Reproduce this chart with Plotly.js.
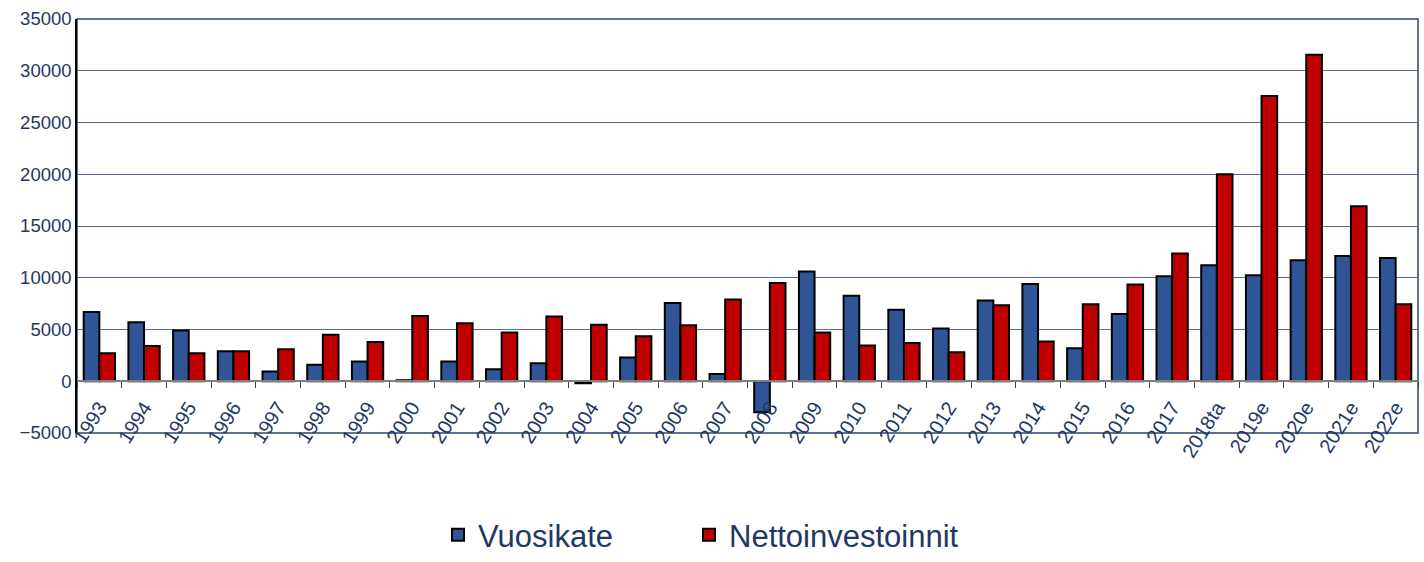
<!DOCTYPE html>
<html>
<head>
<meta charset="utf-8">
<script src="https://cdn.plot.ly/plotly-3.0.1.min.js"></script>
<style>
  html, body { margin: 0; padding: 0; background: #ffffff; }
  #chart { width: 1424px; height: 562px; }
</style>
</head>
<body>
<div id="chart"></div>
<script>
// Vuosikate vs. nettoinvestoinnit, 1993-2022e

const years = [
    '1993', '1994', '1995', '1996', '1997', '1998', '1999', '2000', '2001', '2002',
    '2003', '2004', '2005', '2006', '2007', '2008', '2009', '2010', '2011', '2012',
    '2013', '2014', '2015', '2016', '2017', '2018ta', '2019e', '2020e', '2021e', '2022e'
];

const vuosikate = [
    6700, 5700, 4900, 2900, 950, 1600, 1900, 100, 1900, 1150,
    1750, -200, 2300, 7550, 700, -3000, 10600, 8250, 6900, 5100,
    7800, 9400, 3200, 6500, 10150, 11200, 10250, 11700, 12100, 11900
];

const nettoinvestoinnit = [
    2700, 3400, 2700, 2900, 3100, 4500, 3800, 6300, 5600, 4700,
    6250, 5450, 4350, 5400, 7900, 9500, 4700, 3450, 3700, 2800,
    7350, 3850, 7450, 9350, 12350, 20000, 27550, 31550, 16900, 7450
];

const yMin = -5000;
const yMax = 35000;

const textColor = '#1f3864';
const gridColor = '#5a6b94';

const vuosikateTrace = {
    x: years,
    y: vuosikate,
    type: 'bar',
    name: 'Vuosikate',
    legend: 'legend',
    marker: { color: '#2f5597', line: { color: '#000000', width: 2 } }
};

const nettoTrace = {
    x: years,
    y: nettoinvestoinnit,
    type: 'bar',
    name: 'Nettoinvestoinnit',
    legend: 'legend2',
    marker: { color: '#c00000', line: { color: '#000000', width: 2 } }
};

// x axis sits at y = 0, not at the bottom of the plot
const zeroPos = (0 - yMin) / (yMax - yMin);

// one legend per series so the two entries sit where the reference has them
const legendBase = {
    orientation: 'h',
    xref: 'container',
    yref: 'container',
    xanchor: 'left',
    y: 0,
    yanchor: 'bottom',
    font: { size: 31, color: textColor },
    itemwidth: 30
};

const layout = {
    width: 1424,
    height: 562,
    paper_bgcolor: '#ffffff',
    plot_bgcolor: '#ffffff',
    font: { family: 'Liberation Sans, Arial, sans-serif', color: textColor },
    barmode: 'group',
    bargap: 0.3,
    bargroupgap: 0,
    margin: { t: 19, r: 6, b: 129, l: 77, autoexpand: false },
    showlegend: true,
    legend: Object.assign({}, legendBase, { x: 438 / 1424 }),
    legend2: Object.assign({}, legendBase, { x: 689 / 1424 }),
    xaxis: {
        type: 'category',
        anchor: 'free',
        position: zeroPos,
        automargin: false,
        showline: true,
        linecolor: '#7f7f7f',
        linewidth: 1.5,
        ticks: 'outside',
        tickson: 'boundaries',
        ticklen: 6,
        tickcolor: '#404040',
        tickangle: -58,
        ticklabelstandoff: 6,
        tickfont: { size: 20, color: textColor },
        showgrid: false,
        zeroline: false
    },
    yaxis: {
        range: [yMin, yMax],
        dtick: 5000,
        tickformat: 'd',
        automargin: false,
        showgrid: true,
        gridcolor: gridColor,
        gridwidth: 1,
        zeroline: false,
        showline: true,
        linecolor: '#000000',
        linewidth: 1.5,
        ticks: '',
        tickfont: { size: 18.5, color: textColor }
    },
    shapes: [
        {
            type: 'rect',
            xref: 'paper',
            yref: 'paper',
            x0: 0, x1: 1, y0: 0, y1: 1,
            line: { color: '#2e4370', width: 1.5 },
            layer: 'below'
        }
    ]
};

Plotly.newPlot('chart', [vuosikateTrace, nettoTrace], layout, { displayModeBar: false });
</script>
</body>
</html>
